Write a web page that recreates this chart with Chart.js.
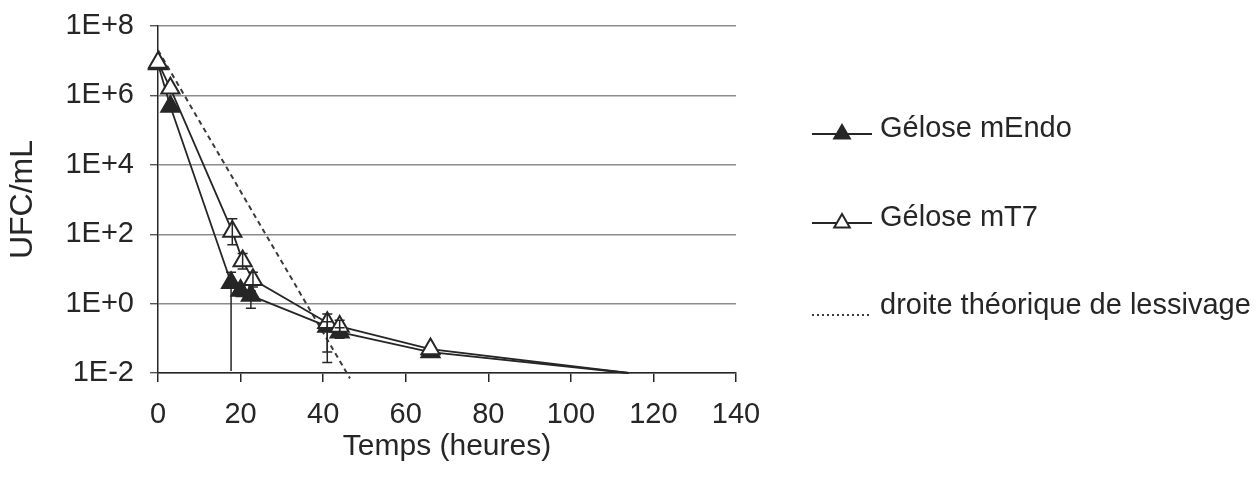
<!DOCTYPE html>
<html>
<head>
<meta charset="utf-8">
<title>Lessivage - UFC/mL</title>
<script src="https://cdn.jsdelivr.net/npm/chart.js@4/dist/chart.umd.min.js"></script>
<style>
  html, body { margin: 0; padding: 0; background: #fff; }
  #wrap { width: 1258px; height: 481px; }
</style>
</head>
<body>
<div id="wrap"><canvas id="lessivage" width="1258" height="481"></canvas></div>
<script>
'use strict';

// data (time in hours, UFC/mL)
var endoLabel = 'Gélose mEndo';
var endoTimes = [0, 3, 17.7, 20, 22.5, 41, 44, 66, 114];
var endoValues = [8e6, 4.8e5, 4, 2.4, 1.7, 0.22, 0.15, 0.04, 0.01];
var endoUpper = [null, null, 8, 3.2, 2.3, 0.3, 0.2, null, null];
var endoLower = [null, null, 0.001, 1.6, 0.74, 0.02, 0.1, null, null];

var t7Label = 'Gélose mT7';
var t7Times = [0, 3, 18, 20.5, 23, 41, 44, 66, 114];
var t7Values = [8.9e6, 1.6e6, 120, 17, 4.9, 0.28, 0.22, 0.049, 0.01];
var t7Upper = [null, null, 280, 28, 8, 0.5, 0.33, null, null];
var t7Lower = [null, null, 50, 10, 3, 0.04, 0.15, null, null];

// theoretical washout line
var theoLabel = 'droite théorique de lessivage';
var theoTimes = [0, 46.5];
var theoValues = [2e7, 0.007];

// axes
var xTickValues = [0, 20, 40, 60, 80, 100, 120, 140];
var yTickValues = [1e-2, 1e0, 1e2, 1e4, 1e6, 1e8];
var yTickLabels = ['1E-2', '1E+0', '1E+2', '1E+4', '1E+6', '1E+8'];
var xTitle = 'Temps (heures)';
var yTitle = 'UFC/mL';

var ink = '#262626';
var fontFamily = '"Liberation Sans", Arial, sans-serif';

function toPoints(times, values) {
  var pts = [];
  for (var i = 0; i < times.length; i++) {
    pts.push({ x: times[i], y: values[i] });
  }
  return pts;
}

// last point sits on the axis, no marker drawn there
function radii(n) {
  var r = [];
  for (var i = 0; i < n; i++) r.push(i === n - 1 ? 0 : 10.5);
  return r;
}

function triangle(ctx, x, y, r) {
  var rad = 0;
  ctx.beginPath();
  ctx.moveTo(x + Math.sin(rad) * r, y - Math.cos(rad) * r);
  rad += Math.PI * 2 / 3;
  ctx.lineTo(x + Math.sin(rad) * r, y - Math.cos(rad) * r);
  rad += Math.PI * 2 / 3;
  ctx.lineTo(x + Math.sin(rad) * r, y - Math.cos(rad) * r);
  ctx.closePath();
}

// vertical error bars with small caps
var errorBars = {
  id: 'errorBars',
  afterDatasetsDraw: function(chart) {
    var ctx = chart.ctx;
    var area = chart.chartArea;
    var xs = chart.scales.x;
    var ys = chart.scales.y;
    ctx.save();
    ctx.beginPath();
    ctx.rect(area.left, area.top - 10, area.right - area.left, area.bottom - area.top + 8);
    ctx.clip();
    ctx.strokeStyle = ink;
    ctx.lineWidth = 1.5;
    chart.data.datasets.forEach(function(ds) {
      if (!ds.errUpper) return;
      ds.data.forEach(function(p, i) {
        var hi = ds.errUpper[i];
        var lo = ds.errLower[i];
        if (hi === null && lo === null) return;
        var x = xs.getPixelForValue(p.x);
        var yHi = ys.getPixelForValue(hi);
        var yLo = ys.getPixelForValue(lo);
        ctx.beginPath();
        ctx.moveTo(x, yHi);
        ctx.lineTo(x, yLo);
        ctx.moveTo(x - 5, yHi);
        ctx.lineTo(x + 5, yHi);
        ctx.moveTo(x - 5, yLo);
        ctx.lineTo(x + 5, yLo);
        ctx.stroke();
      });
    });
    ctx.restore();
  }
};

// legend on the right, one entry per row
var sideLegend = {
  id: 'sideLegend',
  afterDraw: function(chart) {
    var ctx = chart.ctx;
    var x0 = chart.chartArea.right + 76;
    var rows = [129, 218, 306];
    ctx.save();
    ctx.font = '29px ' + fontFamily;
    ctx.textBaseline = 'middle';
    ctx.fillStyle = ink;
    chart.data.datasets.forEach(function(ds, i) {
      var y = rows[i];
      var ly = y + (ds.borderDash ? 9 : 5);
      ctx.strokeStyle = ds.borderColor;
      ctx.lineWidth = ds.borderDash ? 2 : 1.8;
      ctx.setLineDash(ds.borderDash ? [2, 3] : []);
      ctx.beginPath();
      ctx.moveTo(x0, ly);
      ctx.lineTo(x0 + 60, ly);
      ctx.stroke();
      ctx.setLineDash([]);
      if (!ds.borderDash) {
        triangle(ctx, x0 + 30, ly, 9);
        ctx.fillStyle = ds.pointBackgroundColor;
        ctx.fill();
        ctx.lineWidth = 2;
        ctx.stroke();
      }
      ctx.fillStyle = ink;
      ctx.fillText(ds.label, x0 + 68, y);
    });
    ctx.restore();
  }
};

var ctx = document.getElementById('lessivage').getContext('2d');
var chart = new Chart(ctx, {
  type: 'line',
  data: {
    datasets: [
      {
        label: endoLabel,
        data: toPoints(endoTimes, endoValues),
        errUpper: endoUpper,
        errLower: endoLower,
        borderColor: ink,
        borderWidth: 1.8,
        pointStyle: 'triangle',
        pointRadius: radii(endoTimes.length),
        pointBackgroundColor: ink,
        pointBorderColor: ink,
        pointBorderWidth: 2,
        tension: 0,
        clip: false,
        order: 2
      },
      {
        label: t7Label,
        data: toPoints(t7Times, t7Values),
        errUpper: t7Upper,
        errLower: t7Lower,
        borderColor: ink,
        borderWidth: 1.8,
        pointStyle: 'triangle',
        pointRadius: radii(t7Times.length),
        pointBackgroundColor: '#fff',
        pointBorderColor: ink,
        pointBorderWidth: 2,
        tension: 0,
        clip: false,
        order: 1
      },
      {
        label: theoLabel,
        data: toPoints(theoTimes, theoValues),
        borderColor: '#3a3a3a',
        borderWidth: 2,
        borderDash: [5, 4],
        pointRadius: 0,
        tension: 0,
        clip: false,
        order: 3
      }
    ]
  },
  options: {
    responsive: false,
    animation: false,
    layout: { padding: { top: 26, right: 522, bottom: 0, left: 0 } },
    plugins: {
      legend: { display: false },
      tooltip: { enabled: false }
    },
    scales: {
      x: {
        type: 'linear',
        min: 0,
        max: 140,
        afterBuildTicks: function(scale) {
          scale.ticks = xTickValues.map(function(v) { return { value: v }; });
        },
        afterFit: function(scale) { scale.height = 108; },
        grid: { drawOnChartArea: false, drawTicks: true, tickLength: 9, tickColor: ink, lineWidth: 1.5 },
        border: { color: ink, width: 1.5 },
        ticks: { color: ink, font: { family: fontFamily, size: 29 }, padding: 16, maxRotation: 0 },
        title: { display: true, text: xTitle, color: ink, font: { family: fontFamily, size: 30 }, padding: { top: 0, bottom: 16 } }
      },
      y: {
        type: 'logarithmic',
        min: 1e-2,
        max: 1e8,
        afterBuildTicks: function(scale) {
          scale.ticks = yTickValues.map(function(v) { return { value: v }; });
        },
        afterFit: function(scale) {
          scale.width = 158;
          scale.paddingTop = 0;
          scale.paddingBottom = 0;
        },
        grid: { color: '#8c8c8c', lineWidth: 1.4, tickLength: 8, tickColor: '#555' },
        border: { color: ink, width: 1.5 },
        ticks: {
          color: ink,
          font: { family: fontFamily, size: 29 },
          padding: 16,
          callback: function(value) {
            var i = yTickValues.indexOf(value);
            return i >= 0 ? yTickLabels[i] : '';
          }
        },
        title: { display: true, text: yTitle, color: ink, font: { family: fontFamily, size: 32 }, padding: { top: 4, bottom: 0 } }
      }
    }
  },
  plugins: [errorBars, sideLegend]
});
</script>
</body>
</html>
